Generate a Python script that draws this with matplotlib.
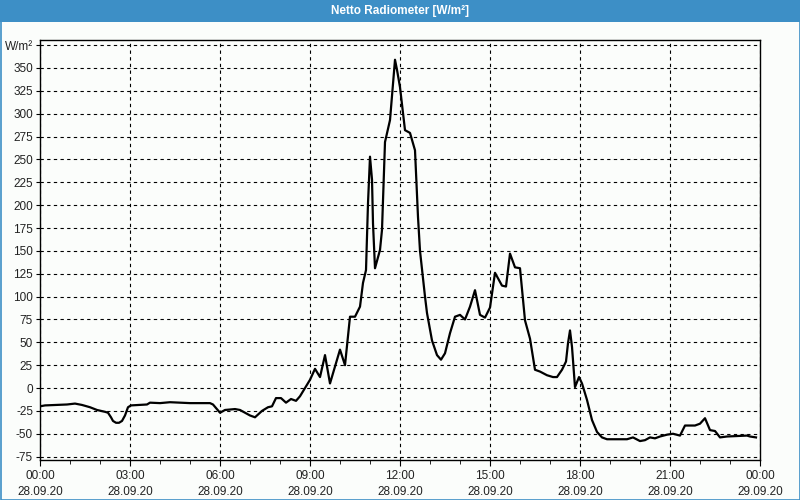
import matplotlib
matplotlib.use('Agg')
import matplotlib.pyplot as plt
from matplotlib.patches import Rectangle

# readings, time of day and net radiation in W/m2
times = ['00:00', '00:10', '00:54', '01:10', '01:24', '01:40', '01:54', '02:10', '02:16', '02:22',
         '02:26', '02:32', '02:38', '02:44', '02:50', '02:56', '03:02', '03:34', '03:40', '04:00',
         '04:20', '05:00', '05:40', '05:46', '06:00', '06:10', '06:30', '06:40', '06:50', '07:00',
         '07:10', '07:24', '07:36', '07:44', '07:52', '08:02', '08:12', '08:22', '08:32', '08:40',
         '08:50', '09:00', '09:10', '09:20', '09:30', '09:40', '10:00', '10:10', '10:20', '10:30',
         '10:40', '10:46', '10:52', '10:56', '11:00', '11:04', '11:06', '11:10', '11:20', '11:24',
         '11:30', '11:40', '11:50', '11:54', '12:00', '12:10', '12:20', '12:30', '12:36', '12:40',
         '12:50', '12:54', '13:04', '13:14', '13:22', '13:30', '13:40', '13:50', '14:00', '14:10',
         '14:20', '14:30', '14:40', '14:50', '15:00', '15:10', '15:24', '15:32', '15:40', '15:50',
         '16:00', '16:10', '16:20', '16:30', '16:40', '16:54', '17:06', '17:14', '17:24', '17:32',
         '17:36', '17:40', '17:44', '17:50', '17:58', '18:04', '18:14', '18:24', '18:34', '18:44',
         '18:54', '19:34', '19:46', '20:00', '20:10', '20:20', '20:30', '20:40', '20:54', '21:06',
         '21:20', '21:30', '21:50', '22:00', '22:10', '22:20', '22:30', '22:40', '22:54', '23:34',
         '23:40', '23:52']
values = [-20, -19, -18, -17, -18.5, -21, -24, -26, -27, -32,
          -36, -38, -38, -36, -30, -21, -19, -18, -16, -16.5,
          -15.5, -16.5, -16.5, -18, -27, -24, -23, -24, -27, -30,
          -32, -25, -21, -20, -11, -11, -16, -12, -14, -9,
          0, 9, 21, 12, 36, 5, 42, 25, 78, 78,
          89, 115, 129, 202, 253, 228, 180, 131, 151, 173,
          269, 293, 359, 348, 329, 282, 279, 260, 187, 150,
          100, 82, 52, 36, 31, 38, 60, 78, 80, 75,
          89, 107, 80, 77, 88, 126, 112, 111, 147, 132,
          131, 74, 54, 20, 18, 14, 12, 12, 20, 29,
          49, 63, 45, 1, 12, 5, -13, -35, -48, -54,
          -56, -56, -54, -58, -57, -54, -55, -53, -51, -50,
          -52, -41, -41, -39, -33, -46, -47, -54, -53, -52,
          -53, -54]

hours = [int(t[:2]) + int(t[3:]) / 60 for t in times]

x_ticks = [0, 3, 6, 9, 12, 15, 18, 21, 24]
x_labels = ['00:00\n28.09.20', '03:00\n28.09.20', '06:00\n28.09.20', '09:00\n28.09.20',
            '12:00\n28.09.20', '15:00\n28.09.20', '18:00\n28.09.20', '21:00\n28.09.20',
            '00:00\n29.09.20']
y_ticks = list(range(-75, 376, 25))
y_labels = [str(v) for v in y_ticks[:-1]] + ['W/m²']

bg = '#fbfdfb'
blue = '#3d8fc6'

plt.rcParams['font.family'] = ['Liberation Sans', 'DejaVu Sans']

fig = plt.figure(figsize=(8, 5), dpi=100, facecolor=bg)

# title bar and window border
fig.patches.append(Rectangle((0, 1 - 22 / 500), 1, 22 / 500, transform=fig.transFigure,
                             facecolor=blue, edgecolor='none', zorder=0))
fig.patches.append(Rectangle((0.5 / 800, 0.5 / 500), 1 - 1 / 800, 1 - 1 / 500,
                             transform=fig.transFigure, facecolor='none',
                             edgecolor=blue, linewidth=1.2, zorder=1))
fig.text(0.5, 1 - 11 / 500, 'Netto Radiometer [W/m²]', color='white', fontweight='bold',
         fontsize=8.5, ha='center', va='center')

ax = fig.add_axes([0.05, 0.08, 0.9, 0.84])
ax.set_facecolor(bg)
ax.plot(hours, values, color='black', linewidth=1.6, zorder=3)

ax.set_xlim(0, 24)
ax.set_ylim(-78.7, 380.6)
ax.set_xticks(x_ticks)
ax.set_xticklabels(x_labels, fontsize=8.5, linespacing=1.5)
ax.set_xticks(range(0, 25), minor=True)
ax.set_yticks(y_ticks)
ax.set_yticklabels(y_labels, fontsize=8.5)
ax.tick_params(axis='both', which='both', direction='out', colors='black', labelcolor='#222222')
ax.tick_params(axis='x', which='major', length=4, pad=3)
ax.tick_params(axis='x', which='minor', length=3)
ax.tick_params(axis='y', length=3, pad=2)

ax.grid(True, which='major', color='black', linestyle=(0, (3, 3)), linewidth=0.8)
for s in ax.spines.values():
    s.set_color('black')
    s.set_linewidth(1)

fig.savefig('out.png', dpi=100, facecolor=bg)
